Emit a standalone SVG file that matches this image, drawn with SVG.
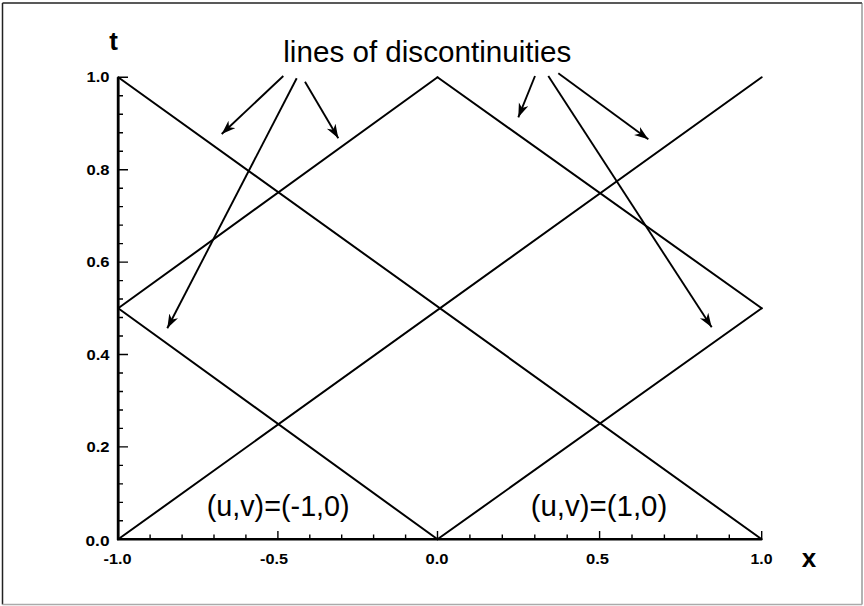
<svg xmlns="http://www.w3.org/2000/svg" width="864" height="606" viewBox="0 0 864 606">
<style>
.ln{stroke:#000;stroke-width:2;fill:none;stroke-linecap:round}
.ax{stroke:#000;fill:none}
.tk{font-family:"Liberation Sans",Arial,sans-serif;font-weight:bold;font-size:14px;fill:#000}
.lb{font-family:"Liberation Sans",Arial,sans-serif;font-size:29px;fill:#000}
.ar{stroke:#000;stroke-width:1.9;fill:none;marker-end:url(#ah)}
</style>
<defs>
<marker id="ah" markerUnits="userSpaceOnUse" markerWidth="16" markerHeight="11" refX="14" refY="5" orient="auto"><path d="M0,0 L14,5 L0,10 L4,5 Z" fill="#000"/></marker>
</defs>
<rect x="0" y="0" width="864" height="606" fill="#fff"/>
<g id="frame" fill="none">
<line x1="2.5" y1="3" x2="862" y2="3" stroke="#222" stroke-width="1.5"/>
<line x1="2.5" y1="3" x2="2.5" y2="604.5" stroke="#222" stroke-width="1.5"/>
<line x1="862" y1="3" x2="862" y2="604.5" stroke="#666" stroke-width="1"/>
<line x1="2.5" y1="604.5" x2="862" y2="604.5" stroke="#aaa" stroke-width="1.5"/>
</g>
<g id="axes">
<line class="ax" x1="118.2" y1="77.3" x2="118.2" y2="540" stroke-width="2.8"/>
<line class="ax" x1="117" y1="539.3" x2="761.7" y2="539.3" stroke-width="2.4"/>
<path class="ax" stroke-width="1.4" d="M118,539.3H128M118,520.82H123M118,502.34H123M118,483.86H123M118,465.38H123M118,446.9H128M118,428.42H123M118,409.94H123M118,391.46H123M118,372.98H123M118,354.5H128M118,336.02H123M118,317.54H123M118,299.06H123M118,280.58H123M118,262.1H128M118,243.62H123M118,225.14H123M118,206.66H123M118,188.18H123M118,169.7H128M118,151.22H123M118,132.74H123M118,114.26H123M118,95.78H123M118,77.3H128"/>
<path class="ax" stroke-width="1.4" d="M118.2,539.3V531M150.1,539.3V534.5M182.1,539.3V534.5M214,539.3V534.5M245.9,539.3V534.5M277.9,539.3V531M309.8,539.3V534.5M341.7,539.3V534.5M373.6,539.3V534.5M405.6,539.3V534.5M437.5,539.3V531M469.9,539.3V534.5M502.3,539.3V534.5M534.8,539.3V534.5M567.2,539.3V534.5M599.6,539.3V531M632,539.3V534.5M664.4,539.3V534.5M696.9,539.3V534.5M729.3,539.3V534.5M761.7,539.3V531"/>
</g>
<g id="ticklabels" class="tk">
<text x="109.5" y="82.3" text-anchor="end" textLength="23" lengthAdjust="spacingAndGlyphs">1.0</text>
<text x="109.5" y="174.7" text-anchor="end" textLength="23" lengthAdjust="spacingAndGlyphs">0.8</text>
<text x="109.5" y="267.1" text-anchor="end" textLength="23" lengthAdjust="spacingAndGlyphs">0.6</text>
<text x="109.5" y="359.5" text-anchor="end" textLength="23" lengthAdjust="spacingAndGlyphs">0.4</text>
<text x="109.5" y="451.9" text-anchor="end" textLength="23" lengthAdjust="spacingAndGlyphs">0.2</text>
<text x="109.5" y="546.3" text-anchor="end" textLength="24" lengthAdjust="spacingAndGlyphs">0.0</text>
<text x="103.5" y="563.5" textLength="28" lengthAdjust="spacingAndGlyphs">-1.0</text>
<text x="260" y="563.5" textLength="28" lengthAdjust="spacingAndGlyphs">-0.5</text>
<text x="425.5" y="563.5" textLength="23" lengthAdjust="spacingAndGlyphs">0.0</text>
<text x="586" y="563.5" textLength="23" lengthAdjust="spacingAndGlyphs">0.5</text>
<text x="750.5" y="563.5" textLength="22" lengthAdjust="spacingAndGlyphs">1.0</text>
</g>
<g id="axis-titles">
<text x="113.5" y="50" text-anchor="middle" font-family="Liberation Sans, Arial, sans-serif" font-weight="bold" font-size="26">t</text>
<text x="809" y="567" text-anchor="middle" font-family="Liberation Sans, Arial, sans-serif" font-weight="bold" font-size="26">x</text>
</g>
<g id="discontinuity-lines">
<line class="ln" x1="118.2" y1="77.3" x2="761.7" y2="539.3"/>
<line class="ln" x1="118.2" y1="539.3" x2="761.7" y2="77.3"/>
<line class="ln" x1="118.2" y1="308.3" x2="437.5" y2="539.3"/>
<line class="ln" x1="118.2" y1="308.3" x2="437.5" y2="77.3"/>
<line class="ln" x1="437.5" y1="77.3" x2="761.7" y2="308.3"/>
<line class="ln" x1="437.5" y1="539.3" x2="761.7" y2="308.3"/>
</g>
<g id="title">
<text class="lb" x="283.3" y="62" font-size="29.5" textLength="288" lengthAdjust="spacingAndGlyphs">lines of discontinuities</text>
</g>
<g id="region-left">
<text class="lb" x="206.7" y="516" textLength="143" lengthAdjust="spacingAndGlyphs">(u,v)=(-1,0)</text>
</g>
<g id="region-right">
<text class="lb" x="530.7" y="516" textLength="136.6" lengthAdjust="spacingAndGlyphs">(u,v)=(1,0)</text>
</g>
<g id="connectors">
<line class="ar" x1="283.3" y1="76" x2="221.7" y2="134"/>
<line class="ar" x1="296.7" y1="78.3" x2="167.3" y2="328.3"/>
<line class="ar" x1="305" y1="81.7" x2="338.3" y2="138.3"/>
<line class="ar" x1="535" y1="76" x2="518.3" y2="117.3"/>
<line class="ar" x1="548.3" y1="76" x2="711.7" y2="327.3"/>
<line class="ar" x1="558.3" y1="73.3" x2="648.3" y2="139.3"/>
</g>
</svg>
